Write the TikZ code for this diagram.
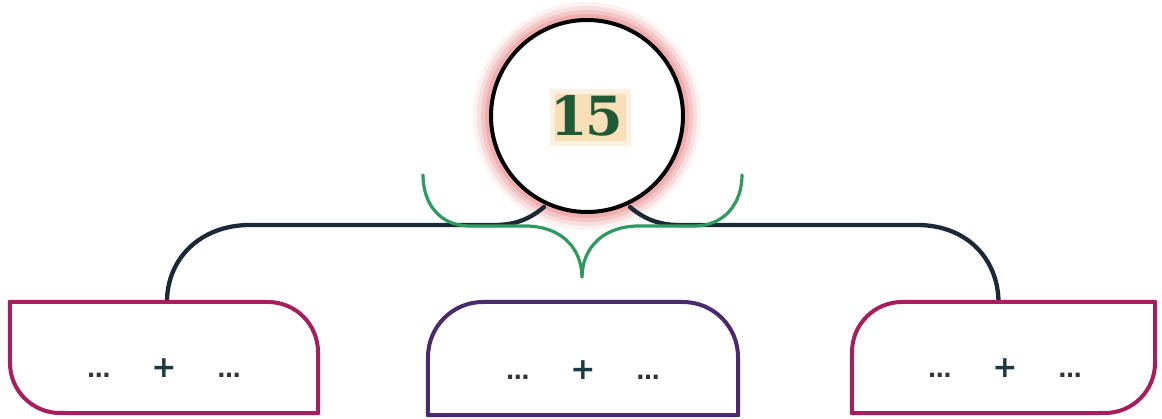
\documentclass[tikz,border=0pt]{standalone}
\usepackage{fontspec}
\setmainfont{DejaVu Sans}
\newfontfamily\numfont{DejaVu Serif}
\newcommand{\mydots}{\textcolor{black!80}{\bfseries\fontsize{23}{23}\selectfont\ldots}}
\newcommand{\mysum}{\mydots\hspace{41pt}\textcolor{plusc}{\bfseries +}\hspace{41pt}\mydots}
\begin{document}
\begin{tikzpicture}[x=1pt,y=1pt,
  conn/.style={draw=linec, line width=4.3pt, line cap=round},
  brace/.style={draw=bracec, line width=3.2pt, line cap=round},
  boxn/.style={draw=none, inner sep=0pt},
  pinkbox/.style={draw=pinkc, line width=4pt, line join=round},
  purplebox/.style={draw=purplec, line width=4pt, line join=round},
  sumtext/.style={inner sep=0pt, anchor=base, font=\fontsize{30}{30}\selectfont},
]
\definecolor{linec}{HTML}{1B2838}
\definecolor{bracec}{HTML}{2E9A5E}
\definecolor{pinkc}{HTML}{A61E5E}
\definecolor{purplec}{HTML}{4A2A6C}
\definecolor{numc}{HTML}{1F5A36}
\definecolor{plusc}{HTML}{1B3A46}
\definecolor{glowc}{HTML}{EE9A9A}
\definecolor{hlc}{HTML}{F8D8A8}
\useasboundingbox (0,0) rectangle (1162,419);
\fill[white] (0,0) rectangle (1162,419);

% glow
\fill[glowc, opacity=0.12] (587,303) circle (114);
\fill[glowc, opacity=0.22] (587,303) circle (110);
\fill[glowc, opacity=0.35] (587,303) circle (106);
\fill[glowc, opacity=0.5] (587,303) circle (102);

% box nodes
\node[boxn, minimum width=308, minimum height=111] (lb) at (164,61.5) {};
\node[boxn, minimum width=310, minimum height=113] (mb) at (583,60.5) {};
\node[boxn, minimum width=303, minimum height=111] (rb) at (1003.5,61.5) {};

% connectors
\draw[conn] ([xshift=3pt]lb.north) .. controls (167,160) and (200,194) .. (250,194) -- (495,194)
  .. controls (515,194) and (530,200) .. (544,212);
\draw[conn] ([xshift=-5pt]rb.north) .. controls (998,160) and (967,194) .. (917,194) -- (679,194)
  .. controls (659,194) and (644,200) .. (630,212);

% circle node
\node[circle, draw=black, fill=white, line width=4pt, minimum size=192, inner sep=0pt] (c) at (587,303) {};
\fill[hlc, opacity=0.35] (550,273) rectangle (631,330);
\fill[hlc, opacity=0.7] (555,278) rectangle (626,325);
\node[font=\numfont\bfseries\fontsize{54}{54}\selectfont, text=numc] (n) at (c.center) {1\kern-3pt5};

% green brace
\coordinate (bt) at (582,141);
\draw[brace] (423,244) .. controls (423,215) and (440,193) .. (470,193) -- (525,193)
  .. controls (560,193) and (582,172) .. (bt)
  .. controls (582,172) and (604,193) .. (639,193) -- (694,193)
  .. controls (724,193) and (742,215) .. (742,244);

% boxes
\draw[pinkbox] (lb.north west) -- (268,117) arc[start angle=90, end angle=0, radius=50]
  -- (lb.south east) -- (60,6) arc[start angle=270, end angle=180, radius=50] -- cycle;
\draw[purplebox] (mb.south west) -- (428,62) arc[start angle=180, end angle=90, radius=55]
  -- (683,117) arc[start angle=90, end angle=0, radius=55] -- (mb.south east) -- cycle;
\draw[pinkbox] (rb.south west) -- (852,67) arc[start angle=180, end angle=90, radius=50]
  -- (rb.north east) -- (1155,56) arc[start angle=0, end angle=-90, radius=50] -- cycle;

% texts
\node[sumtext] (lt) at (164,41) {\mysum};
\node[sumtext] (mt) at (583,39) {\mysum};
\node[sumtext] (rt) at (1005,41) {\mysum};
\end{tikzpicture}
\end{document}
